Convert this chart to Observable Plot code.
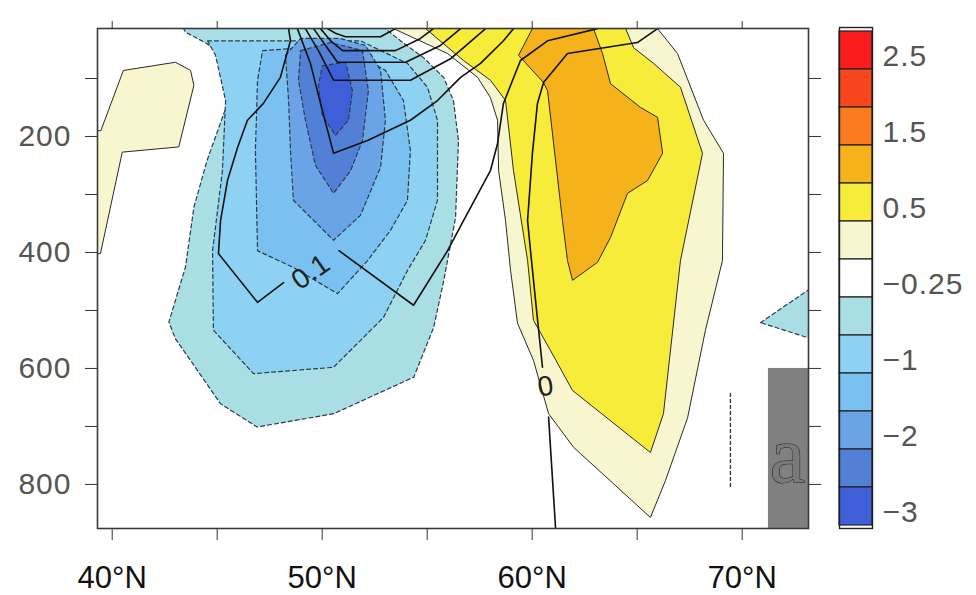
<!DOCTYPE html>
<html>
<head>
<meta charset="utf-8">
<script src="https://cdn.jsdelivr.net/npm/d3@7"></script>
<script src="https://cdn.jsdelivr.net/npm/@observablehq/plot@0.6"></script>
<style>
  html, body { margin: 0; padding: 0; background: #fff; }
  #wrap { position: relative; width: 976px; height: 595px; overflow: hidden; }
  #main, #bar { position: absolute; top: 0; }
  #main { left: 0; }
  #bar { left: 830px; }
  [aria-label="y-axis tick label"] { fill: #555; letter-spacing: 1px; }
  [aria-label="x-axis tick label"] { fill: #111; }
</style>
</head>
<body>
<div id="wrap"><div id="main"></div><div id="bar"></div></div>
<script>
// ---------- axis ticks ----------
const xTicks = [40, 45, 50, 55, 60, 65, 70];
const xLabelTicks = [40, 50, 60, 70];
const yTicks = [100, 200, 300, 400, 500, 600, 700, 800];
const yLabelTicks = [200, 400, 600, 800];
const latDomain = [39.3, 73.157];
const presDomain = [13.8, 876];

// ---------- shading levels and colours (colorbar, top to bottom) ----------
const levels = [3, 2.5, 2, 1.5, 1, 0.5, 0.25, -0.25, -0.5, -1, -1.5, -2, -2.5, -3];
const bandColors = ["#f91d1d", "#f8471e", "#fa7a1e", "#f5b21b", "#f7ec3a", "#f7f6ce", "#ffffff",
                    "#a9dee4", "#8ed2f3", "#7ac0f0", "#6ba4e6", "#5180d6", "#3f5fd9"];

// ---------- shaded-field contours: [lat °N, pressure hPa] ----------
const posWest025 = [[40.55,86],[43.01,72],[43.73,86],[43.89,112],[43.17,218],[40.48,227],[39.44,402],[38.8,402],[38.8,190],[39.44,190]];
const pos025 = [[53.40,0],[53.40,14],[55.97,57],[57.40,98],[58.01,133],[58.35,172],[58.40,259],[58.73,345],[58.97,431],[59.30,522],[60.06,586],[60.78,678],[61.97,736],[65.63,857],[66.35,793],[67.40,685],[68.25,534],[69.06,414],[69.11,229],[68.16,172],[66.92,57],[65.97,14],[65.97,0]];
const pos05 = [[54.92,0],[54.92,14],[56.73,69],[58.01,103],[58.73,138],[59.11,259],[59.78,414],[60.06,517],[60.87,569],[61.92,638],[65.63,745],[66.25,678],[67.06,414],[68.11,229],[67.06,115],[65.78,74],[64.83,47],[64.45,14],[64.45,0]];
const pos1 = [[60.01,0],[60.01,14],[59.35,60],[60.54,107],[60.73,121],[61.44,345],[61.68,414],[61.92,448],[63.11,417],[63.73,374],[64.54,298],[65.49,276],[66.21,229],[65.97,167],[65.16,150],[63.73,109],[63.35,57],[62.92,14],[62.92,0]];
const neg025 = [[43.40,0],[43.40,14],[43.49,20],[44.52,40],[45.95,83],[45.79,115],[45.31,161],[44.52,241],[43.89,322],[43.49,425],[42.70,520],[43.01,549],[43.73,586],[45.16,661],[46.90,701],[50.55,678],[54.36,615],[55.31,529],[55.79,448],[56.35,340],[56.49,207],[56.25,138],[55.78,98],[54.82,64],[53.73,35],[53.01,14],[53.01,0]];
const neg025East = [[70.87,521],[73.3,461],[73.3,549]];
const neg05 = [[44.54,35],[48.35,35],[51.82,35],[54.06,74],[55.01,115],[55.49,172],[55.49,310],[54.92,379],[54.06,431],[52.92,512],[50.54,598],[46.73,609],[44.82,534],[44.78,397],[45.25,259],[45.40,138],[44.92,60]];
const neg1 = [[47.16,52],[48.97,47],[51.35,52],[53.01,86],[53.87,138],[54.20,224],[54.06,310],[53.25,362],[52.16,414],[50.73,471],[48.63,426],[46.92,397],[46.82,224],[46.92,103]];
const neg15 = [[48.25,60],[48.97,31],[50.87,31],[52.06,43],[52.78,86],[53.01,172],[52.78,253],[51.82,336],[50.54,379],[48.63,310],[48.49,224],[48.40,138]];
const neg2 = [[48.97,52],[50.40,38],[51.92,52],[52.20,121],[51.92,207],[51.35,259],[50.54,298],[49.68,250],[49.20,172],[48.87,103]];
const neg25 = [[50.01,78],[51.11,72],[51.44,121],[51.25,172],[50.63,198],[50.01,164],[49.82,112]];
const negSliver = [[69.44,643],[69.44,805]];

const shaded = [
  {level: 0.25, pts: posWest025},
  {level: 0.25, pts: pos025},
  {level: 0.5, pts: pos05},
  {level: 1, pts: pos1},
  {level: -0.25, pts: neg025},
  {level: -0.25, pts: neg025East},
  {level: -0.5, pts: neg05},
  {level: -1, pts: neg1},
  {level: -1.5, pts: neg15},
  {level: -2, pts: neg2},
  {level: -2.5, pts: neg25}
];

// ---------- line-field contours (solid black) ----------
const line01a = [[48.40,0],[48.40,14],[48.49,35],[48.01,98],[47.20,143],[46.44,172],[45.97,219],[45.49,276],[45.16,345],[45.06,402],[46.92,486],[48.16,452]];
const line01b = [[50.80,397],[54.35,491],[55.97,397],[56.73,345],[58.01,259],[58.35,212],[58.63,143],[59.44,69],[60.73,35],[63.11,14],[63.6,0]];
const lineU1 = [[48.82,0],[48.82,14],[49.44,74],[49.92,143],[50.54,229],[52.16,207],[54.20,172],[55.49,138],[56.59,98],[57.54,74],[58.63,35],[59.11,14],[59.2,0]];
const lineU2 = [[49.20,0],[49.20,14],[49.82,52],[50.54,103],[54.20,103],[56.11,66],[57.78,14],[58.0,0]];
const lineU3 = [[49.59,0],[49.59,14],[50.16,43],[50.73,72],[53.97,72],[55.63,43],[56.59,14],[56.8,0]];
const lineU4 = [[49.92,0],[49.92,14],[50.40,35],[50.97,52],[53.49,52],[54.68,31],[55.30,14],[55.5,0]];
const lineU5 = [[50.25,0],[50.25,14],[50.63,22],[51.11,28],[52.78,28],[53.49,14],[53.6,0]];
const line0a = [[61.2,900],[61.11,874],[60.78,684]];
const line0b = [[60.49,598],[60.16,483],[59.92,397],[59.78,345],[60.01,229],[60.25,143],[60.54,107],[61.68,57],[65.01,38],[65.97,14],[66.2,0]];
const lineField = [line01a, line01b, lineU1, lineU2, lineU3, lineU4, lineU5, line0a, line0b];

const lineLabels = [
  {text: "0.1", lat: 49.45, p: 434, angle: -35},
  {text: "0", lat: 60.63, p: 631, angle: -8}
];

// ---------- panel label ----------
const panelBox = [{lat1: 71.25, lat2: 73.4, p1: 600, p2: 890}];
const panelText = [{text: "a", lat: 72.16, p: 752}];

// ---------- helpers ----------
const bandFill = L => bandColors[L > 0 ? levels.indexOf(L) - 1 : levels.indexOf(L)];
const X = d => d[0], Y = d => d[1];

const main = Plot.plot({
  width: 976,
  height: 595,
  marginLeft: 97,
  marginRight: 168,
  marginTop: 28,
  marginBottom: 67,
  style: {fontFamily: "'Liberation Sans', Arial, sans-serif", background: "#fff"},
  x: {domain: latDomain, label: null},
  y: {domain: presDomain, reverse: true, label: null},
  marks: [
    ...shaded.map(s => Plot.line(s.pts, {
      x: X, y: Y, curve: "linear-closed", clip: true,
      fill: bandFill(s.level),
      stroke: s.level < 0 ? "#2c3b4c" : "#2a2a2a",
      strokeWidth: s.level < 0 ? 1.2 : 1,
      strokeDasharray: s.level < 0 ? "4,3" : undefined
    })),
    Plot.line(negSliver, {x: X, y: Y, stroke: "#2c3b4c", strokeWidth: 1.4, strokeDasharray: "3,3", clip: true}),
    ...lineField.map(l => Plot.line(l, {x: X, y: Y, stroke: "#111", strokeWidth: 1.6, clip: true})),
    Plot.text(lineLabels, {x: "lat", y: "p", text: "text", rotate: "angle", fontSize: 28, fill: "#222"}),
    Plot.rect(panelBox, {x1: "lat1", x2: "lat2", y1: "p1", y2: "p2", fill: "#808080", clip: true}),
    Plot.text(panelText, {x: "lat", y: "p", text: "text", fontSize: 80, fontFamily: "'Liberation Serif', serif",
      fill: "#7a7a7a", stroke: "#222", strokeWidth: 1}),
    Plot.axisX({anchor: "bottom", ticks: xTicks, tickSize: 12, tickPadding: 25, fontSize: 31,
      stroke: "#333", tickFormat: d => xLabelTicks.includes(d) ? `${d}°N` : "", label: null}),
    Plot.axisX({anchor: "top", ticks: xTicks, tickSize: 8, stroke: "#333", tickFormat: () => "", label: null}),
    Plot.axisY({anchor: "left", ticks: yTicks, tickSize: 12, tickPadding: 14, fontSize: 30,
      stroke: "#333", tickFormat: d => yLabelTicks.includes(d) ? String(d) : "", label: null}),
    Plot.axisY({anchor: "right", ticks: yTicks, tickSize: 12, stroke: "#333", tickFormat: () => "", label: null}),
    Plot.frame({stroke: "#3a3a3a", strokeWidth: 1.6})
  ]
});
document.getElementById("main").appendChild(main);

// ---------- colorbar ----------
const fmt = d3.format("~g");
const boxes = bandColors.map((c, i) => ({i, c}));
const cbLabels = boxes.filter(b => b.i % 2 === 0).map(b => ({i: b.i, label: fmt(levels[b.i + 1])}));

const bar = Plot.plot({
  width: 146,
  height: 595,
  marginLeft: 9,
  marginRight: 104,
  marginTop: 27,
  marginBottom: 67,
  style: {fontFamily: "'Liberation Sans', Arial, sans-serif", background: "transparent", overflow: "visible"},
  x: {axis: null},
  y: {type: "band", domain: d3.range(bandColors.length), padding: 0, axis: null},
  color: {type: "identity"},
  marks: [
    Plot.cell(boxes, {y: "i", fill: "c", stroke: "#222", strokeWidth: 1.2}),
    Plot.text(cbLabels, {y: "i", text: "label", frameAnchor: "right", textAnchor: "start",
      dx: 10, dy: 6, fontSize: 30, fill: "#555"}),
    Plot.frame({stroke: "#222", strokeWidth: 1.4})
  ]
});
bar.querySelectorAll("text").forEach(t => t.style.letterSpacing = "1px");
document.getElementById("bar").appendChild(bar);
</script>
</body>
</html>
